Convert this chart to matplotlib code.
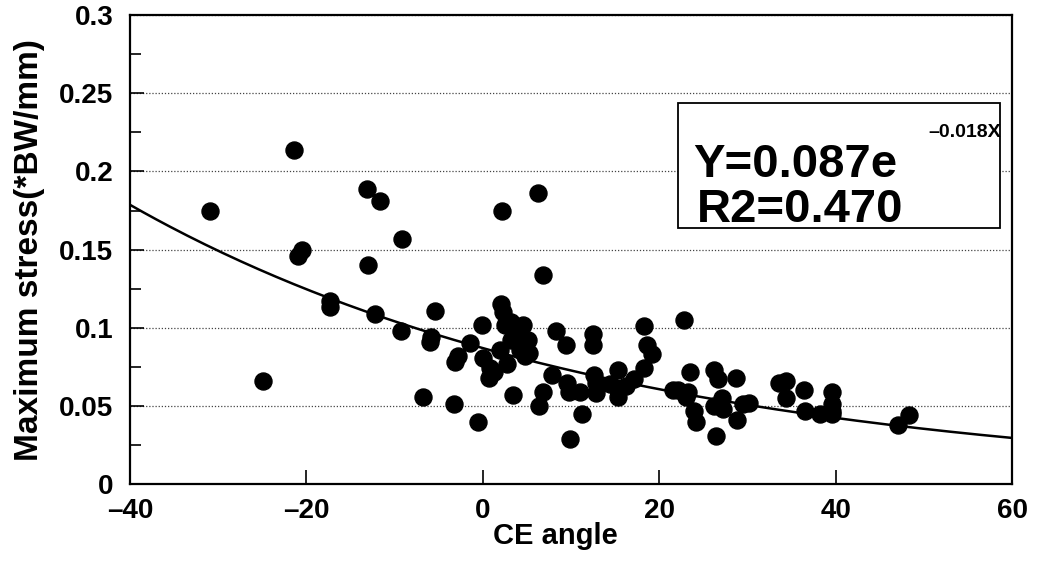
import numpy as np
import matplotlib
matplotlib.use("Agg")
import matplotlib.pyplot as plt
from matplotlib.patches import Rectangle

# data
ce_angle = [-30.9, -24.9, -21.4, -21.0, -20.5, -17.3, -17.3, -13.1, -13.0, -11.7,
            -12.2, -9.2, -9.3, -6.8, -5.9, -6.0, -5.4, -3.3, -2.8, -3.2,
            -1.5, -0.6, -0.1, 0.0, 0.8, 0.7, 1.3, 1.9, 2.1, 2.2,
            2.3, 2.5, 2.7, 3.2, 3.2, 3.4, 3.6, 4.4, 4.6, 4.2,
            4.8, 5.1, 5.2, 6.3, 6.4, 6.8, 6.8, 7.8, 8.3, 9.4,
            9.5, 9.9, 9.8, 11.2, 11.0, 12.5, 12.5, 12.6, 12.8, 12.8,
            14.4, 15.3, 15.3, 15.3, 16.2, 17.1, 18.3, 18.3, 18.6, 19.2,
            21.5, 22.1, 22.8, 23.0, 23.5, 23.2, 23.9, 24.1, 26.2, 26.6,
            26.2, 26.4, 27.1, 27.2, 28.7, 28.8, 29.5, 30.2, 33.5, 34.4,
            34.4, 36.4, 36.5, 38.2, 39.6, 39.6, 39.5, 47.0, 48.3, 39.5]
max_stress = [0.175, 0.066, 0.214, 0.146, 0.150, 0.117, 0.113, 0.189, 0.140, 0.181,
              0.109, 0.157, 0.098, 0.056, 0.094, 0.091, 0.111, 0.051, 0.082, 0.078,
              0.090, 0.040, 0.102, 0.081, 0.074, 0.068, 0.072, 0.086, 0.115, 0.175,
              0.110, 0.102, 0.077, 0.104, 0.092, 0.057, 0.095, 0.091, 0.102, 0.086,
              0.082, 0.092, 0.084, 0.186, 0.050, 0.134, 0.059, 0.070, 0.098, 0.089,
              0.065, 0.029, 0.059, 0.045, 0.059, 0.096, 0.089, 0.070, 0.058, 0.065,
              0.064, 0.073, 0.060, 0.056, 0.063, 0.067, 0.074, 0.101, 0.089, 0.083,
              0.060, 0.060, 0.105, 0.056, 0.072, 0.059, 0.047, 0.040, 0.073, 0.067,
              0.050, 0.031, 0.055, 0.048, 0.068, 0.041, 0.051, 0.052, 0.065, 0.066,
              0.055, 0.060, 0.047, 0.045, 0.059, 0.051, 0.047, 0.038, 0.044, 0.045]

# fitted curve Y = a * exp(b X)
fit_a = 0.087
fit_b = -0.018

x_ticks = [-40, -20, 0, 20, 40, 60]
x_ticklabels = ["\u201340", "\u201320", "0", "20", "40", "60"]
y_ticks = [0, 0.05, 0.1, 0.15, 0.2, 0.25, 0.3]
y_ticklabels = ["0", "0.05", "0.1", "0.15", "0.2", "0.25", "0.3"]

plt.rcParams['font.family'] = ['Liberation Sans', 'DejaVu Sans']
plt.rcParams['font.weight'] = 'bold'

fig = plt.figure(figsize=(10.47, 5.61), dpi=100)
ax = fig.add_axes([0.124, 0.137, 0.843, 0.836])

ax.scatter(ce_angle, max_stress, s=150, color='black', zorder=3)

xs = np.linspace(-40, 60, 200)
ax.plot(xs, fit_a * np.exp(fit_b * xs), color='black', lw=1.8, zorder=2)

ax.set_xlim(-40, 60)
ax.set_ylim(0, 0.3)
ax.set_xticks(x_ticks)
ax.set_xticklabels(x_ticklabels, fontsize=20, fontweight='bold')
ax.set_yticks(y_ticks)
ax.set_yticklabels(y_ticklabels, fontsize=20, fontweight='bold')
ax.set_yticks(np.arange(0.025, 0.3, 0.05), minor=True)
ax.tick_params(axis='x', which='major', direction='in', length=10, width=1.2, pad=10)
ax.tick_params(axis='y', which='major', direction='in', length=10, width=1.2, pad=12)
ax.tick_params(axis='y', which='minor', direction='in', length=8, width=1.2)

ax.grid(axis='y', which='major', linestyle=(0, (1, 1.5)), color='#444444', lw=0.9)
ax.set_axisbelow(True)
for sp in ax.spines.values():
    sp.set_linewidth(1.6)

ax.set_xlabel("CE angle", fontsize=21, fontweight='bold')
ax.xaxis.set_label_coords(0.482, -0.08)
ax.set_ylabel("Maximum stress(*BW/mm)", fontsize=24, fontweight='bold', labelpad=10)

# equation box
ax.add_patch(Rectangle((0.621, 0.546), 0.365, 0.266, transform=ax.transAxes,
                       fc='white', ec='black', lw=1.3, zorder=4))
ax.text(0.638, 0.655, "Y=0.087e", transform=ax.transAxes, fontsize=34,
        fontweight='bold', va='baseline', ha='left', zorder=5)
ax.text(0.643, 0.559, "R2=0.470", transform=ax.transAxes, fontsize=34,
        fontweight='bold', va='baseline', ha='left', zorder=5)
ax.text(0.905, 0.740, "\u20130.018X", transform=ax.transAxes, fontsize=14,
        fontweight='bold', va='baseline', ha='left', zorder=5)

fig.savefig("out.png", dpi=100)
